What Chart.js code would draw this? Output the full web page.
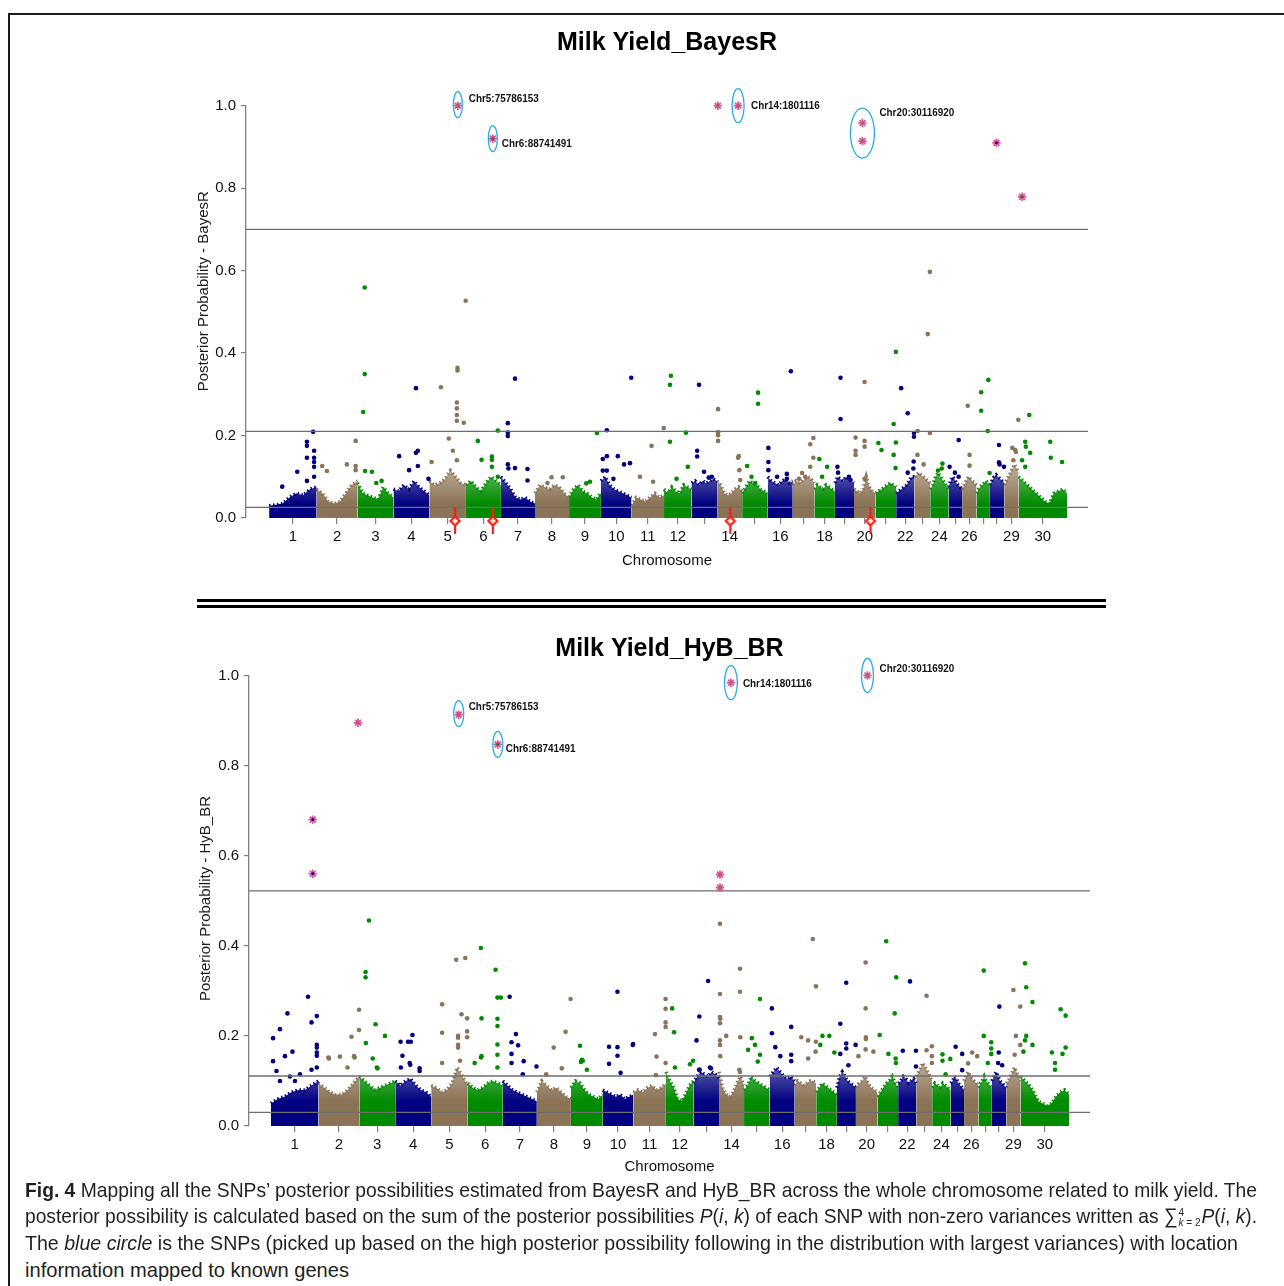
<!DOCTYPE html>
<html>
<head>
<meta charset="utf-8">
<script src="https://cdn.jsdelivr.net/npm/chart.js@4.4.1/dist/chart.umd.min.js"></script>
<style>
  html, body { margin: 0; padding: 0; background: #fff; }
  #page { position: relative; width: 1284px; height: 1286px; overflow: hidden; background: #fff; }
  canvas { position: absolute; }
  .frameTop { position: absolute; left: 8px; top: 13px; width: 1276px; height: 2px; background: #1a1a1a; }
  .frameLeft { position: absolute; left: 8px; top: 13px; width: 2px; height: 1273px; background: #1a1a1a; }
  .sep { position: absolute; left: 197px; width: 909px; height: 3px; background: #000; }
  #caption { position: absolute; left: 25px; top: 0; font-family: 'Liberation Sans Narrow', 'Liberation Sans', sans-serif; font-size: 21px; color: #231f20; }
  #caption .ln { position: absolute; left: 0; white-space: nowrap; line-height: 24px; transform-origin: 0 50%; }
  .ss { display: inline-block; vertical-align: middle; font-size: 11px; line-height: 10px; margin: 0 1px; }
  .ss span { display: block; }
</style>
</head>
<body>
<div id="page">
  <div class="frameTop"></div>
  <div class="frameLeft"></div>
  <canvas id="top" width="950" height="558" style="left:150px;top:20px;"></canvas>
  <div class="sep" style="top:599px;"></div>
  <div class="sep" style="top:605px;"></div>
  <canvas id="bottom" width="952" height="576" style="left:150px;top:610px;"></canvas>
  <div id="caption">
    <div class="ln" data-w="1232" style="top:1178px;"><b>Fig. 4</b> Mapping all the SNPs’ posterior possibilities estimated from BayesR and HyB_BR across the whole chromosome related to milk yield. The</div>
    <div class="ln" data-w="1232" style="top:1204px;">posterior possibility is calculated based on the sum of the posterior possibilities <i>P</i>(<i>i</i>, <i>k</i>) of each SNP with non-zero variances written as ∑<span class="ss"><span>4</span><span><i>k</i> = 2</span></span><i>P</i>(<i>i</i>, <i>k</i>).</div>
    <div class="ln" data-w="1213" style="top:1231px;">The <i>blue circle</i> is the SNPs (picked up based on the high posterior possibility following in the distribution with largest variances) with location</div>
    <div class="ln" data-w="324" style="top:1258px;">information mapped to known genes</div>
  </div>
</div>
<script>
// chromosomes and their lengths (Mb, approx. as drawn)
const chromosomes = ['1','2','3','4','5','6','7','8','9','10','11','12','13','14','15','16','17','18','19','20','21','22','23','24','25','26','27','28','29','30'];
const chromLength = [152,131,115,115,117,112,109,109,102,98,104,88,82,80,82,80,69,66,61,69,66,58,51,59,43,46,43,46,46,155];
const shownTicks = ['1','2','3','4','5','6','7','8','9','10','11','12','14','16','18','20','22','24','26','29','30'];
const chromColors = ['#000080', '#8B7355', '#008B00'];

// ---- BayesR ----
// top edge of the dense SNP mass along each chromosome
const bayesRBand = [
  [0.03,0.032,0.035,0.05,0.06,0.055,0.07,0.075],
  [0.07,0.06,0.04,0.035,0.04,0.06,0.08,0.09],
  [0.085,0.06,0.055,0.05,0.045,0.075,0.06,0.05],
  [0.07,0.065,0.08,0.07,0.09,0.075,0.065,0.055],
  [0.09,0.08,0.085,0.095,0.115,0.1,0.085,0.08],
  [0.08,0.09,0.075,0.065,0.085,0.1,0.09,0.08],
  [0.1,0.085,0.07,0.05,0.045,0.05,0.04,0.035],
  [0.06,0.08,0.075,0.07,0.08,0.075,0.06,0.05],
  [0.05,0.07,0.08,0.065,0.06,0.05,0.045,0.06],
  [0.09,0.1,0.08,0.07,0.065,0.06,0.055,0.05],
  [0.03,0.05,0.045,0.04,0.05,0.06,0.05,0.055],
  [0.07,0.06,0.075,0.065,0.06,0.08,0.075,0.07],
  [0.085,0.09,0.08,0.09,0.085,0.09,0.095,0.09],
  [0.09,0.08,0.06,0.055,0.06,0.07,0.075,0.065],
  [0.06,0.075,0.09,0.085,0.08,0.07,0.065,0.06],
  [0.1,0.09,0.085,0.08,0.09,0.095,0.085,0.09],
  [0.08,0.09,0.085,0.09,0.095,0.1,0.095,0.085],
  [0.07,0.08,0.075,0.07,0.08,0.075,0.07,0.065],
  [0.085,0.1,0.095,0.09,0.1,0.095,0.09,0.085],
  [0.07,0.065,0.06,0.07,0.1,0.075,0.065,0.06],
  [0.06,0.065,0.07,0.075,0.08,0.085,0.08,0.075],
  [0.06,0.065,0.07,0.075,0.08,0.09,0.1,0.1],
  [0.1,0.105,0.11,0.105,0.1,0.095,0.09,0.085],
  [0.07,0.08,0.1,0.11,0.1,0.09,0.08,0.07],
  [0.075,0.09,0.1,0.095,0.085,0.08,0.075,0.07],
  [0.07,0.08,0.09,0.1,0.095,0.09,0.085,0.08],
  [0.06,0.07,0.075,0.08,0.085,0.09,0.085,0.08],
  [0.08,0.09,0.1,0.105,0.1,0.095,0.09,0.085],
  [0.08,0.09,0.1,0.11,0.12,0.13,0.12,0.11],
  [0.1,0.09,0.08,0.07,0.06,0.05,0.04,0.035,0.06,0.065,0.07,0.06]
];
// individual SNPs above the dense mass: [position in chromosome (Mb), posterior probability]
const bayesRPoints = [
  [[141,0.209],[121,0.185],[121,0.175],[144,0.163],[121,0.146],[144,0.146],[144,0.136],[144,0.124],[90,0.112],[144,0.1],[42,0.076],[121,0.09]],
  [[18,0.126],[33,0.114],[97,0.13],[125,0.187],[125,0.126],[125,0.116]],
  [[23,0.559],[23,0.349],[18,0.257],[24,0.114],[46,0.112],[77,0.09],[60,0.085]],
  [[18,0.15],[50,0.116],[72,0.315],[72,0.158],[78,0.163],[78,0.126],[112,0.095]],
  [[7,0.136],[37,0.317],[62,0.193],[75,0.163],[88,0.28],[88,0.266],[88,0.25],[88,0.236],[88,0.14],[90,0.364],[90,0.358],[110,0.231],[116,0.527]],
  [[38,0.187],[50,0.141],[83,0.149],[83,0.141],[83,0.124],[102,0.212],[102,0.1]],
  [[22,0.23],[22,0.207],[22,0.199],[22,0.13],[24,0.12],[45,0.338],[45,0.121],[85,0.119],[85,0.091]],
  [[53,0.099],[89,0.099],[40,0.085]],
  [[89,0.206],[55,0.084],[67,0.088]],
  [[19,0.213],[6,0.143],[19,0.15],[6,0.115],[19,0.115],[54,0.15],[74,0.13],[93,0.133],[97,0.34],[40,0.095]],
  [[27,0.1],[64,0.175],[69,0.088],[103,0.218]],
  [[22,0.345],[19,0.323],[19,0.185],[70,0.207],[76,0.124],[40,0.095]],
  [[24,0.323],[18,0.163],[18,0.149],[40,0.112],[65,0.1],[55,0.098]],
  [[3,0.264],[3,0.208],[3,0.201],[3,0.187],[69,0.15],[67,0.146],[71,0.116],[74,0.092]],
  [[16,0.126],[51,0.304],[51,0.277],[42,0.085],[30,0.1]],
  [[2,0.17],[2,0.136],[2,0.116],[61,0.107],[61,0.095],[74,0.356],[30,0.1]],
  [[56,0.179],[66,0.194],[66,0.146],[56,0.124],[30,0.109],[40,0.1],[20,0.095]],
  [[16,0.143],[41,0.124],[25,0.1]],
  [[8,0.124],[18,0.34],[18,0.24],[50,0.092],[45,0.1],[10,0.11]],
  [[5,0.195],[5,0.163],[5,0.153],[34,0.33],[34,0.187],[34,0.173],[34,0.095]],
  [[9,0.182],[19,0.165],[58,0.228],[58,0.153],[65,0.403],[65,0.183],[64,0.121]],
  [[16,0.315],[37,0.254],[57,0.206],[57,0.197],[56,0.137],[55,0.12],[37,0.11]],
  [[11,0.211],[10,0.153],[43,0.446],[50,0.206],[50,0.597],[30,0.13]],
  [[39,0.132],[37,0.12],[25,0.115]],
  [[3,0.124],[32,0.189],[32,0.1],[20,0.11]],
  [[18,0.272],[24,0.153],[24,0.127]],
  [[15,0.305],[15,0.26],[36,0.211],[38,0.335],[42,0.109]],
  [[29,0.177],[29,0.135],[31,0.13],[45,0.124]],
  [[26,0.17],[29,0.14],[35,0.165],[37,0.16],[45,0.238]],
  [[11,0.14],[21,0.185],[21,0.124],[23,0.173],[34,0.25],[37,0.158],[101,0.185],[103,0.146],[139,0.136]]
];
// SNPs in the large-variance distribution: [chromosome, position, probability]
const bayesRStars = [[5,91,1.0],[6,86,0.92],[14,2,1.0],[14,67,1.0],[20,27,0.958],[20,27,0.914],[28,21,0.91],[30,11,0.779]];
const bayesRLines = [0.7, 0.21, 0.026];
const bayesRGenes = [[5,82],[6,86],[14,42],[20,53]];
const bayesRCallouts = [
  { text: 'Chr5:75786153', stars: [0] },
  { text: 'Chr6:88741491', stars: [1] },
  { text: 'Chr14:1801116', stars: [3] },
  { text: 'Chr20:30116920', stars: [4, 5] }
];

// ---- HyB_BR ----
const hybBand = [
  [0.05,0.06,0.065,0.075,0.08,0.08,0.09,0.1],
  [0.095,0.085,0.075,0.07,0.07,0.08,0.095,0.11],
  [0.11,0.1,0.09,0.08,0.085,0.09,0.095,0.1],
  [0.1,0.09,0.1,0.105,0.09,0.08,0.075,0.065],
  [0.09,0.085,0.075,0.08,0.095,0.13,0.11,0.09],
  [0.095,0.085,0.08,0.085,0.095,0.1,0.095,0.09],
  [0.1,0.09,0.08,0.075,0.07,0.065,0.06,0.055],
  [0.075,0.1,0.09,0.08,0.085,0.075,0.065,0.06],
  [0.085,0.1,0.095,0.08,0.07,0.065,0.06,0.07],
  [0.08,0.075,0.07,0.065,0.07,0.06,0.065,0.07],
  [0.075,0.08,0.075,0.085,0.09,0.08,0.085,0.095],
  [0.12,0.1,0.085,0.06,0.055,0.07,0.09,0.1],
  [0.095,0.11,0.12,0.115,0.11,0.12,0.115,0.105],
  [0.12,0.085,0.07,0.065,0.075,0.095,0.11,0.09],
  [0.08,0.09,0.11,0.1,0.095,0.09,0.085,0.08],
  [0.11,0.12,0.13,0.12,0.11,0.105,0.11,0.1],
  [0.09,0.1,0.095,0.09,0.095,0.1,0.1,0.095],
  [0.075,0.085,0.095,0.09,0.085,0.08,0.075,0.07],
  [0.085,0.11,0.12,0.11,0.1,0.095,0.09,0.085],
  [0.085,0.095,0.1,0.11,0.095,0.085,0.08,0.075],
  [0.065,0.075,0.085,0.095,0.1,0.11,0.095,0.085],
  [0.095,0.1,0.11,0.105,0.095,0.1,0.105,0.095],
  [0.11,0.12,0.13,0.14,0.13,0.12,0.11,0.1],
  [0.085,0.095,0.09,0.085,0.095,0.09,0.085,0.08],
  [0.095,0.1,0.11,0.105,0.095,0.09,0.085,0.08],
  [0.1,0.11,0.12,0.11,0.105,0.1,0.095,0.09],
  [0.085,0.095,0.1,0.11,0.1,0.095,0.09,0.085],
  [0.1,0.11,0.12,0.11,0.1,0.095,0.09,0.085],
  [0.095,0.1,0.11,0.12,0.13,0.12,0.11,0.1],
  [0.11,0.1,0.09,0.075,0.055,0.05,0.045,0.05,0.065,0.075,0.08,0.07]
];
const hybPoints = [
  [[7,0.195],[7,0.144],[18,0.122],[29,0.215],[53,0.25],[45,0.155],[69,0.165],[61,0.11],[77,0.1],[119,0.287],[130,0.23],[147,0.244],[147,0.18],[147,0.174],[147,0.163],[147,0.156],[147,0.13],[130,0.125],[29,0.1],[93,0.115]],
  [[32,0.152],[34,0.15],[69,0.154],[106,0.198],[114,0.155],[116,0.152],[130,0.258],[130,0.213],[93,0.13]],
  [[20,0.342],[20,0.33],[31,0.456],[52,0.226],[21,0.184],[82,0.2],[43,0.15],[56,0.13],[58,0.128]],
  [[17,0.187],[41,0.187],[50,0.187],[55,0.202],[23,0.156],[46,0.14],[48,0.136],[78,0.128],[78,0.122],[18,0.13]],
  [[35,0.27],[35,0.207],[35,0.14],[80,0.369],[109,0.373],[97,0.248],[115,0.239],[86,0.2],[86,0.196],[86,0.18],[86,0.174],[115,0.21],[115,0.197],[92,0.145]],
  [[42,0.395],[44,0.239],[89,0.347],[95,0.285],[106,0.285],[95,0.238],[95,0.222],[95,0.181],[95,0.158],[44,0.155],[42,0.152],[22,0.14],[95,0.13]],
  [[22,0.287],[28,0.186],[28,0.16],[28,0.14],[42,0.204],[49,0.179],[67,0.144],[108,0.132],[64,0.115]],
  [[54,0.174],[92,0.209],[108,0.282],[80,0.128],[30,0.115]],
  [[29,0.178],[35,0.147],[38,0.145],[32,0.142],[51,0.125]],
  [[47,0.298],[47,0.175],[47,0.156],[20,0.176],[20,0.138],[57,0.118],[97,0.182],[96,0.18]],
  [[69,0.204],[74,0.154],[103,0.282],[103,0.26],[103,0.23],[103,0.22],[103,0.14],[72,0.113]],
  [[20,0.261],[26,0.208],[29,0.13],[77,0.137],[87,0.145]],
  [[19,0.243],[10,0.19],[47,0.322],[18,0.125],[20,0.125],[53,0.13],[56,0.128]],
  [[3,0.449],[3,0.293],[3,0.242],[4,0.238],[3,0.228],[3,0.19],[3,0.18],[4,0.155],[23,0.2],[67,0.349],[67,0.298],[68,0.197],[65,0.125],[67,0.12]],
  [[51,0.282],[25,0.195],[13,0.169],[35,0.18],[51,0.158],[44,0.143]],
  [[7,0.261],[7,0.206],[18,0.175],[69,0.22],[69,0.158],[69,0.144],[34,0.155]],
  [[21,0.197],[58,0.415],[68,0.31],[43,0.19],[68,0.187],[67,0.165],[43,0.15]],
  [[20,0.2],[42,0.2],[13,0.18],[58,0.163]],
  [[11,0.227],[11,0.16],[30,0.318],[30,0.183],[30,0.172],[60,0.18],[37,0.135]],
  [[31,0.363],[31,0.261],[32,0.197],[32,0.193],[31,0.17],[56,0.165],[8,0.155]],
  [[28,0.41],[60,0.33],[55,0.25],[7,0.202],[35,0.16],[58,0.15],[59,0.14]],
  [[38,0.321],[15,0.167],[57,0.167],[57,0.132]],
  [[33,0.289],[33,0.168],[50,0.177],[50,0.155],[50,0.14]],
  [[33,0.159],[33,0.145],[43,0.115],[58,0.149]],
  [[16,0.176],[37,0.16],[37,0.124]],
  [[26,0.163],[42,0.155],[13,0.139]],
  [[17,0.345],[17,0.2],[41,0.186],[41,0.172],[41,0.16],[30,0.14]],
  [[24,0.265],[22,0.163],[33,0.135],[20,0.14]],
  [[23,0.302],[45,0.265],[45,0.18],[31,0.2],[27,0.158]],
  [[14,0.361],[14,0.19],[18,0.308],[18,0.2],[38,0.275],[38,0.18],[9,0.165],[100,0.163],[110,0.14],[110,0.125],[128,0.259],[144,0.245],[144,0.174],[134,0.16]]
];
const hybStars = [[1,134,0.68],[1,134,0.56],[2,127,0.895],[5,88,0.913],[6,96,0.847],[14,3,0.558],[14,3,0.529],[14,38,0.984],[20,37,1.0]];
const hybLines = [0.522, 0.111, 0.0304];
const hybGenes = [];
const hybCallouts = [
  { text: 'Chr5:75786153', stars: [3] },
  { text: 'Chr6:88741491', stars: [4] },
  { text: 'Chr14:1801116', stars: [7] },
  { text: 'Chr20:30116920', stars: [8] }
];

// cumulative start of each chromosome on the genome axis
const chromStart = [];
chromLength.reduce((acc, len) => { chromStart.push(acc); return acc + len; }, 0);
const chromCenter = chromLength.map((len, i) => chromStart[i] + len / 2);
const genomeEnd = chromStart[29] + chromLength[29];

function rgba(hex, a) {
  const n = parseInt(hex.slice(1), 16);
  return 'rgba(' + (n >> 16) + ',' + ((n >> 8) & 255) + ',' + (n & 255) + ',' + a + ')';
}

function geneIcon() {
  const c = document.createElement('canvas');
  c.width = 14; c.height = 32;
  const g = c.getContext('2d');
  g.strokeStyle = '#ff1a1a';
  g.lineWidth = 2.2;
  g.beginPath(); g.moveTo(7, 5); g.lineTo(7, 32); g.stroke();
  g.beginPath();
  g.moveTo(7, 14.5); g.lineTo(11.5, 19); g.lineTo(7, 23.5); g.lineTo(2.5, 19); g.closePath();
  g.fillStyle = '#fff6dc';
  g.fill(); g.stroke();
  return c;
}
const geneImg = geneIcon();

const calloutPlugin = {
  id: 'callouts',
  afterDatasetsDraw(chart, args, opts) {
    const { ctx } = chart;
    const x = chart.scales.x, y = chart.scales.y;
    ctx.save();
    // y axis title
    ctx.save();
    ctx.translate(chart.chartArea.left + opts.yTitleDx, y.getPixelForValue(opts.yTitleAt));
    ctx.rotate(-Math.PI / 2);
    ctx.font = '15px "Liberation Sans", Arial, sans-serif';
    ctx.fillStyle = '#1a1a1a';
    ctx.textAlign = 'center';
    ctx.textBaseline = 'middle';
    ctx.fillText(opts.yTitle, 0, 0);
    ctx.restore();
    // blue circles + labels
    opts.callouts.forEach((c, i) => {
      const st = opts.style[i];
      const pts = c.stars.map(k => opts.stars[k]);
      const px = pts.map(s => x.getPixelForValue(chromStart[s[0] - 1] + s[1]));
      const py = pts.map(s => y.getPixelForValue(s[2]));
      const cx = px.reduce((a, b) => a + b, 0) / px.length;
      const cy = py.reduce((a, b) => a + b, 0) / py.length + st.oy;
      ctx.beginPath();
      ctx.ellipse(cx, cy, st.rx, st.ry, 0, 0, Math.PI * 2);
      ctx.strokeStyle = '#2aa9e8';
      ctx.lineWidth = 1.3;
      ctx.stroke();
      ctx.save();
      ctx.translate(cx + st.dx, cy + st.dy);
      ctx.scale(0.86, 1);
      ctx.font = 'bold 11.5px "Liberation Sans", Arial, sans-serif';
      ctx.fillStyle = '#111';
      ctx.textAlign = 'left';
      ctx.textBaseline = 'middle';
      ctx.fillText(c.text, 0, 0);
      ctx.restore();
    });
    ctx.restore();
  }
};

function makeChart(id, cfg) {
  const datasets = [];
  cfg.band.forEach((prof, i) => {
    const s = chromStart[i], len = chromLength[i];
    const col = chromColors[i % 3];
    datasets.push({
      type: 'line',
      data: prof.map((v, k) => ({ x: s + len * k / (prof.length - 1), y: v })),
      fill: 'origin',
      // solid near the axis, a little lighter towards the top of the dot cloud
      backgroundColor: c => {
        const chart = c.chart;
        if (!chart.chartArea) return col;
        const y = chart.scales.y;
        const g = chart.ctx.createLinearGradient(0, y.getPixelForValue(0), 0, y.getPixelForValue(cfg.fadeTo));
        g.addColorStop(0, rgba(col, 1));
        g.addColorStop(cfg.solid / cfg.fadeTo, rgba(col, 1));
        g.addColorStop(1, rgba(col, 0.6));
        return g;
      },
      borderColor: col,
      borderWidth: 3.5,
      borderDash: [1.5, 2.5],
      pointRadius: 0,
      tension: 0,
      order: 10
    });
  });
  [0, 1, 2].forEach(c => {
    const pts = [];
    cfg.points.forEach((list, i) => {
      if (i % 3 !== c) return;
      list.forEach(p => pts.push({ x: chromStart[i] + p[0], y: p[1] }));
    });
    datasets.push({
      type: 'scatter',
      data: pts,
      backgroundColor: chromColors[c],
      borderWidth: 0,
      pointRadius: 2.3,
      order: 8
    });
  });
  cfg.lines.forEach(v => {
    datasets.push({
      type: 'line',
      data: [{ x: cfg.xMin, y: v }, { x: cfg.xMax, y: v }],
      borderColor: '#6e6e6e',
      borderWidth: 1.3,
      pointRadius: 0,
      fill: false,
      order: 6
    });
  });
  datasets.push({
    type: 'scatter',
    data: cfg.genes.map(g => ({ x: chromStart[g[0] - 1] + g[1], y: 0 })),
    pointStyle: geneImg,
    pointRadius: 10,
    clip: false,
    order: 5
  });
  datasets.push({
    type: 'scatter',
    data: cfg.stars.map(s => ({ x: chromStart[s[0] - 1] + s[1], y: s[2] })),
    pointStyle: 'star',
    pointRadius: 4.2,
    borderColor: '#e0509c',
    backgroundColor: 'rgba(0,0,0,0)',
    borderWidth: 1.7,
    clip: false,
    order: 3
  });
  datasets.push({
    type: 'scatter',
    data: cfg.stars.map(s => ({ x: chromStart[s[0] - 1] + s[1], y: s[2] })),
    backgroundColor: cfg.stars.map(s => chromColors[(s[0] - 1) % 3]),
    borderWidth: 0,
    pointRadius: 1.4,
    clip: false,
    order: 2
  });

  return new Chart(document.getElementById(id), {
    type: 'scatter',
    data: { datasets },
    plugins: [calloutPlugin],
    options: {
      responsive: false,
      animation: false,
      events: [],
      layout: { padding: { left: 0, right: 12, top: 0, bottom: 0 } },
      plugins: {
        legend: { display: false },
        tooltip: { enabled: false },
        title: {
          display: true,
          text: cfg.title,
          fullSize: false,
          color: '#000',
          font: { family: '"Liberation Sans", Arial, sans-serif', size: 25, weight: 'bold' },
          padding: cfg.titlePad
        },
        callouts: {
          yTitle: cfg.yTitle,
          yTitleAt: cfg.yTitleAt,
          yTitleDx: cfg.yTitleDx,
          callouts: cfg.callouts,
          stars: cfg.stars,
          style: cfg.calloutStyle
        }
      },
      scales: {
        x: {
          type: 'linear',
          min: cfg.xMin,
          max: cfg.xMax,
          afterBuildTicks: s => { s.ticks = chromCenter.map(v => ({ value: v })); },
          afterFit: s => { s.height = 60; },
          ticks: {
            autoSkip: false,
            maxRotation: 0,
            minRotation: 0,
            padding: 4,
            color: '#111',
            font: { family: '"Liberation Sans", Arial, sans-serif', size: 15 },
            callback: (v, i) => shownTicks.includes(chromosomes[i]) ? chromosomes[i] : ''
          },
          grid: { drawOnChartArea: false, tickLength: 6, color: '#808080', lineWidth: 1.2 },
          border: { display: false },
          title: {
            display: true,
            text: 'Chromosome',
            color: '#111',
            font: { family: '"Liberation Sans", Arial, sans-serif', size: 15 },
            padding: { top: 0, bottom: cfg.xTitlePad }
          }
        },
        y: {
          min: 0,
          max: 1,
          afterFit: s => { s.width = cfg.yWidth; },
          ticks: {
            stepSize: 0.2,
            padding: 5,
            color: '#111',
            font: { family: '"Liberation Sans", Arial, sans-serif', size: 15 },
            callback: v => v.toFixed(1)
          },
          grid: { drawOnChartArea: false, tickLength: 5, color: '#808080', lineWidth: 1.2 },
          border: { display: true, color: '#808080', width: 1.3 }
        }
      }
    }
  });
}

makeChart('top', {
  title: 'Milk Yield_BayesR',
  titlePad: { top: 8, bottom: 47.7 },
  yTitle: 'Posterior Probability - BayesR',
  yTitleAt: 0.55,
  yTitleDx: -42,
  yWidth: 96,
  xTitlePad: 8,
  xMin: -74,
  xMax: genomeEnd + 67,
  solid: 0.035,
  fadeTo: 0.12,
  band: bayesRBand,
  points: bayesRPoints,
  stars: bayesRStars,
  lines: bayesRLines,
  genes: bayesRGenes,
  callouts: bayesRCallouts,
  calloutStyle: [
    { rx: 4.5, ry: 13, oy: -1, dx: 11, dy: -6 },
    { rx: 4.5, ry: 13, oy: 0, dx: 9, dy: 5 },
    { rx: 6, ry: 17, oy: 0, dx: 13, dy: 0 },
    { rx: 12, ry: 25, oy: 1, dx: 17, dy: -20 }
  ]
});

makeChart('bottom', {
  title: 'Milk Yield_HyB_BR',
  titlePad: { top: 24, bottom: 11.5 },
  yTitle: 'Posterior Probability - HyB_BR',
  yTitleAt: 0.505,
  yTitleDx: -43,
  yWidth: 99,
  xTitlePad: 10,
  xMin: -70,
  xMax: genomeEnd + 67,
  solid: 0.055,
  fadeTo: 0.14,
  band: hybBand,
  points: hybPoints,
  stars: hybStars,
  lines: hybLines,
  genes: hybGenes,
  callouts: hybCallouts,
  calloutStyle: [
    { rx: 5, ry: 13, oy: -1, dx: 10, dy: -7 },
    { rx: 5, ry: 13, oy: 0, dx: 8, dy: 4 },
    { rx: 6.5, ry: 17, oy: 0, dx: 12, dy: 1 },
    { rx: 6, ry: 17, oy: 0, dx: 12, dy: -7 }
  ]
});

// stretch caption lines to the widths they have in the figure
document.querySelectorAll('#caption .ln').forEach(el => {
  const w = el.getBoundingClientRect().width;
  const target = +el.dataset.w;
  el.style.transform = 'scaleX(' + (target / w).toFixed(4) + ')';
});
</script>
</body>
</html>
